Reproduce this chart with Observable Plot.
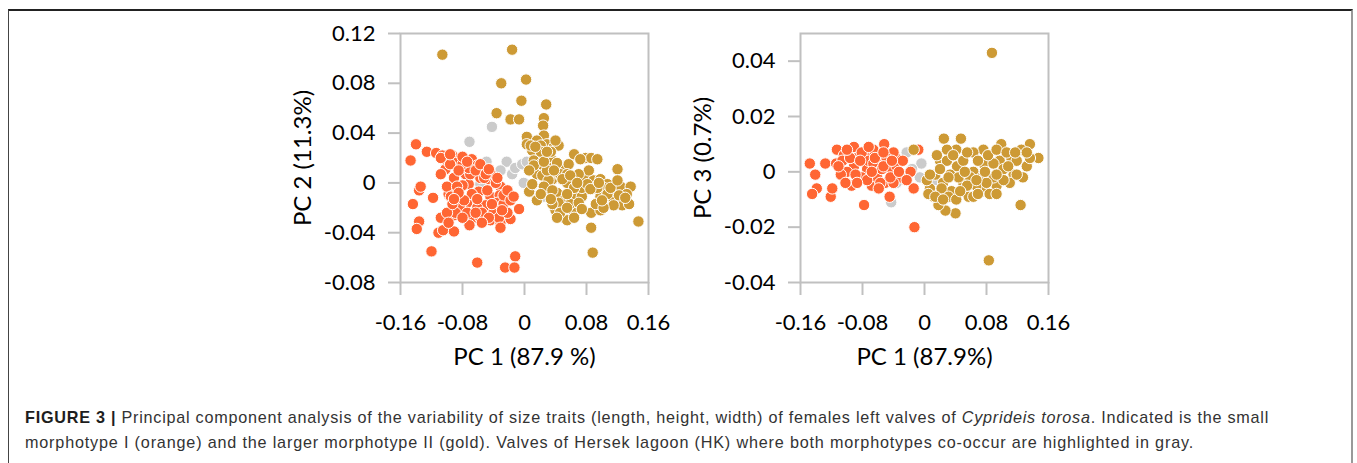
<!DOCTYPE html>
<html>
<head>
<meta charset="utf-8">
<script src="https://cdn.jsdelivr.net/npm/d3@7"></script>
<script src="https://cdn.jsdelivr.net/npm/@observablehq/plot@0.6"></script>
<style>
  html, body { margin: 0; padding: 0; background: #fff; }
  #page { position: relative; width: 1357px; height: 463px; overflow: hidden; }
  #box { position: absolute; left: 8px; top: 9px; width: 1345px; height: 520px;
         border-top: 2px solid #222; border-left: 1px solid #444; border-right: 2px solid #999; box-sizing: border-box; }
  .chart { position: absolute; top: 15px; }
  #left { left: 280px; }
  #right { left: 680px; }
  .cap { position: absolute; left: 25px; white-space: nowrap; font-family: "Liberation Sans", Arial, sans-serif;
         font-size: 16.2px; color: #333; line-height: 1; }
  .cap b { color: #1e1e1e; }
</style>
</head>
<body>
<div id="page">
  <div id="box"></div>
  <div id="left" class="chart"></div>
  <div id="right" class="chart"></div>
  <div id="cap1" class="cap" style="top:409px"><b>FIGURE 3 |</b> Principal component analysis of the variability of size traits (length, height, width) of females left valves of <i>Cyprideis torosa</i>. Indicated is the small</div>
  <div id="cap2" class="cap" style="top:434px">morphotype I (orange) and the larger morphotype II (gold). Valves of Hersek lagoon (HK) where both morphotypes co-occur are highlighted in gray.</div>
</div>
<script>
// ---- tick values ----
const xTicks = [-0.16, -0.08, 0, 0.08, 0.16];
const yTicksPC2 = [-0.08, -0.04, 0, 0.04, 0.08, 0.12];
const yTicksPC3 = [-0.04, -0.02, 0, 0.02, 0.04];

// ---- groups ----
const groups = ["HK", "Morphotype I", "Morphotype II"];
const groupColors = ["#cbcbcb", "#ff6633", "#cd9a35"];

// ---- PC1 vs PC2 ----
const pc12Gray = [[-0.042,0.045],[-0.071,0.033],[-0.049,0.017],[-0.023,0.017],[-0.031,0.010],[-0.016,0.007],
  [-0.012,0.012],[-0.001,0.000],[-0.003,0.015],[0.003,0.017],[-0.040,0.004],[-0.057,-0.001],[0.025,-0.011]];
const pc12Orange = [[-0.140,0.031],[-0.147,0.018],[-0.126,0.025],[-0.114,0.024],[-0.106,0.022],[-0.093,0.022],
  [-0.102,0.011],[-0.089,0.016],[-0.068,0.019],[-0.061,0.014],[-0.091,0.004],[-0.076,0.007],[-0.072,-0.001],
  [-0.057,0.004],[-0.046,0.003],[-0.044,0.008],[-0.031,-0.003],[-0.136,-0.006],[-0.134,-0.003],[-0.144,-0.017],
  [-0.118,-0.012],[-0.098,-0.009],[-0.085,-0.010],[-0.059,-0.007],[-0.044,-0.011],[-0.032,-0.010],[-0.022,-0.013],
  [-0.074,-0.016],[-0.050,-0.018],[-0.035,-0.022],[-0.007,-0.021],[-0.091,-0.026],[-0.108,-0.028],[-0.068,-0.029],
  [-0.057,-0.028],[-0.044,-0.030],[-0.031,-0.032],[-0.018,-0.029],[-0.136,-0.031],[-0.139,-0.037],[-0.111,-0.040],
  [-0.105,-0.038],[-0.091,-0.039],[-0.071,-0.034],[-0.120,-0.055],[-0.061,-0.064],[-0.012,-0.059],[-0.025,-0.068],
  [-0.013,-0.068],[-0.080,-0.002],[-0.083,-0.020],[-0.061,-0.020],[-0.035,-0.016],[-0.052,0.004],[-0.070,0.007],
  [-0.100,-0.003],[-0.108,0.007],[-0.027,-0.017],[-0.072,0.012],[-0.080,0.015],[-0.089,-0.024],[-0.040,-0.024],
  [-0.095,-0.011],[-0.104,0.019],[-0.096,0.015],[-0.085,0.010],[-0.063,0.010],[-0.050,0.007],[-0.037,0.000],
  [-0.027,-0.010],[-0.018,-0.014],[-0.048,-0.006],[-0.068,-0.009],[-0.078,-0.014],[-0.055,-0.024],[-0.074,-0.024],
  [-0.033,-0.028],[-0.022,-0.024],[-0.100,-0.024],[-0.087,-0.003],[-0.093,-0.017],
  [-0.108,0.020],[-0.096,0.023],[-0.080,0.021],[-0.074,0.017],[-0.057,0.015],[-0.046,0.011],[-0.035,0.004],
  [-0.022,-0.006],[-0.014,-0.011],[-0.085,-0.008],[-0.091,-0.013],[-0.061,-0.013],[-0.042,-0.017],[-0.029,-0.022],
  [-0.046,-0.028],[-0.063,-0.024],[-0.080,-0.028],[-0.098,-0.032],[-0.031,-0.036],[-0.055,-0.032]];
const pc12Gold = [[-0.106,0.103],[-0.016,0.107],[0.002,0.083],[-0.030,0.080],[-0.004,0.066],[0.028,0.063],
  [-0.036,0.056],[-0.018,0.051],[-0.007,0.051],[0.025,0.052],[0.024,0.046],[0.003,0.037],[0.003,0.031],[0.025,0.038],
  [0.029,0.031],[0.016,0.034],[0.038,0.029],[0.044,0.030],[0.010,0.026],[0.025,0.022],[0.036,0.018],[0.051,0.013],
  [0.064,0.023],[0.079,0.020],[0.086,0.020],[0.094,0.019],[0.120,0.011],[0.016,0.007],[0.023,0.006],[0.036,0.003],
  [0.044,0.007],[0.061,0.002],[0.077,0.004],[0.089,0.002],[0.098,0.003],[0.107,-0.001],[0.115,-0.005],[0.124,-0.003],
  [0.137,-0.003],[0.006,-0.007],[0.016,-0.014],[0.029,-0.006],[0.042,-0.008],[0.051,-0.014],[0.064,-0.009],
  [0.074,-0.011],[0.098,-0.011],[0.113,-0.011],[0.126,-0.018],[0.135,-0.017],[0.040,-0.022],[0.051,-0.028],
  [0.064,-0.024],[0.086,-0.024],[0.098,-0.022],[0.115,-0.018],[0.147,-0.031],[0.086,-0.036],[0.088,-0.056],
  [0.031,0.002],[0.055,0.000],[0.025,-0.003],[0.044,-0.016],[0.059,-0.017],[0.074,-0.004],[0.083,0.010],
  [0.102,-0.004],[0.036,0.012],[0.012,0.018],[0.021,0.015],[0.057,0.015],[0.046,0.007],[0.070,0.007],
  [0.132,-0.009],[0.036,-0.017],[0.055,-0.030],[0.008,0.030],[0.021,0.030],[0.034,0.025],[0.042,0.016],
  [0.029,0.010],[0.055,0.007],[0.064,-0.004],[0.081,-0.001],[0.094,-0.004],[0.107,-0.009],[0.122,-0.010],
  [0.055,-0.009],[0.036,-0.006],[0.021,-0.009],[0.010,-0.001],[0.046,-0.024],[0.070,-0.016],[0.092,-0.017],
  [0.102,-0.020],[0.034,-0.013],[0.072,0.019],[0.021,0.025],
  [0.012,0.014],[0.025,0.017],[0.038,0.010],[0.049,0.003],[0.059,0.006],[0.068,0.000],[0.085,-0.005],
  [0.096,0.000],[0.111,-0.004],[0.120,0.002],[0.130,-0.012],[0.074,-0.021],[0.055,-0.020],[0.042,-0.028],
  [0.064,-0.028],[0.100,-0.014],[0.029,0.025],[0.040,0.034],[0.014,0.029],[0.006,0.010]];

// ---- PC1 vs PC3 ----
const pc13Gray = [[-0.043,-0.011],[-0.023,0.007],[-0.004,0.003],[-0.006,-0.002],[-0.036,-0.004],[0.016,-0.003],
  [-0.016,0.001],[-0.027,-0.002]];
const pc13Orange = [[-0.148,0.003],[-0.128,0.003],[-0.141,-0.001],[-0.139,-0.006],[-0.145,-0.008],[-0.121,-0.009],
  [-0.119,-0.006],[-0.113,0.008],[-0.104,0.006],[-0.114,0.003],[-0.091,0.009],[-0.076,0.006],[-0.091,0.002],
  [-0.074,0.001],[-0.085,-0.003],[-0.094,-0.005],[-0.068,-0.005],[-0.078,-0.012],[-0.058,0.004],[-0.052,0.010],
  [-0.061,-0.002],[-0.045,0.001],[-0.037,0.005],[-0.040,0.007],[-0.031,-0.002],[-0.018,0.000],[-0.008,0.008],
  [-0.014,-0.006],[-0.045,-0.009],[-0.013,-0.020],[-0.100,0.000],[-0.108,-0.001],[-0.066,0.008],[-0.081,-0.002],
  [-0.051,-0.004],[-0.072,0.004],[-0.087,0.005],[-0.040,-0.004],[-0.106,0.004],[-0.096,0.005],[-0.081,0.007],
  [-0.066,0.003],[-0.055,0.001],[-0.049,0.005],[-0.036,0.002],[-0.028,0.004],[-0.074,-0.003],[-0.057,-0.004],
  [-0.089,-0.001],[-0.102,-0.004],[-0.064,0.005],[-0.044,-0.002],
  [-0.111,0.002],[-0.083,0.004],[-0.068,0.000],[-0.053,0.002],[-0.042,0.004],[-0.033,0.000],[-0.023,-0.003],
  [-0.059,-0.006],[-0.087,-0.004],[-0.100,0.008],[-0.053,0.007],[-0.072,0.009]];
const pc13Gold = [[0.087,0.043],[0.083,-0.032],[0.025,0.012],[0.047,0.012],[0.124,-0.012],[0.040,-0.015],
  [0.027,-0.014],[0.018,-0.012],[0.012,-0.009],[0.035,-0.007],[0.057,-0.009],[0.076,-0.007],[0.093,-0.005],
  [0.115,-0.001],[0.132,0.002],[0.147,0.005],[0.136,0.010],[0.125,0.008],[0.099,0.010],[0.076,0.008],[0.063,0.007],
  [0.041,0.008],[0.029,0.008],[0.020,0.004],[0.042,0.002],[0.063,0.000],[0.074,-0.002],[0.089,-0.002],[0.097,0.004],
  [0.112,0.005],[0.014,-0.001],[0.024,-0.004],[0.050,-0.004],[0.007,-0.006],[0.076,0.003],[0.059,-0.002],
  [0.110,-0.004],[0.127,-0.002],[0.050,0.004],[0.089,0.003],[0.033,-0.001],[0.067,-0.005],[0.102,0.001],
  [0.003,-0.003],[-0.014,0.008],[0.016,0.006],[0.029,0.004],[0.037,0.006],[0.055,0.007],[0.069,0.004],[0.082,0.006],
  [0.093,0.008],[0.106,0.007],[0.119,0.004],[0.136,0.005],[0.044,-0.002],[0.055,-0.005],[0.080,-0.004],
  [0.102,-0.003],[0.119,-0.001],[0.022,-0.006],[0.031,-0.009],[0.041,-0.010],[0.063,-0.009],[0.084,-0.008],
  [0.007,-0.001],[0.005,-0.008],
  [0.020,0.001],[0.031,-0.002],[0.052,0.000],[0.067,-0.003],[0.078,0.000],[0.093,-0.001],[0.108,0.002],
  [0.117,0.007],[0.132,0.007],[0.046,-0.007],[0.069,-0.008],[0.093,-0.008],[0.014,-0.009],[0.024,-0.010]];

function rows(gray, orange, gold) {
  const out = [];
  [gray, orange, gold].forEach((arr, gi) => arr.forEach(([x, y]) => out.push({x, y, g: groups[gi]})));
  return out;
}

const fmt = d => d === 0 ? "0" : String(d);
const axisStyle = {stroke: "#c0c0c0", strokeWidth: 2};

function makeChart(data, yDomain, yTicks, xLabel, yLabel) {
  return Plot.plot({
    width: 400,
    height: 360,
    marginLeft: 120,
    marginRight: 32,
    marginTop: 18,
    marginBottom: 93,
    style: {fontFamily: "Lato, 'Open Sans', sans-serif", fontSize: "22px", color: "#000", background: "transparent", overflow: "visible"},
    x: {domain: [-0.16, 0.16]},
    y: {domain: yDomain},
    color: {domain: groups, range: groupColors},
    marks: [
      Plot.frame({stroke: "#c0c0c0", strokeWidth: 2}),
      // ticks and tick labels
      Plot.axisX({ticks: xTicks, tickFormat: fmt, tickSize: 13, tickPadding: 19, ...axisStyle, label: null}),
      Plot.axisY({ticks: yTicks, tickFormat: fmt, tickSize: 12, tickPadding: 13, ...axisStyle, label: null}),
      // axis titles (slightly larger type)
      Plot.axisX({ticks: [], tickSize: 0, fontSize: 24, label: xLabel, labelAnchor: "center", labelOffset: 82, labelArrow: "none"}),
      Plot.axisY({ticks: [], tickSize: 0, fontSize: 24, label: yLabel, labelAnchor: "center", labelOffset: 107, labelArrow: "none"}),
      Plot.dot(data, {x: "x", y: "y", fill: "g", r: 5.7, stroke: "#fff", strokeWidth: 1, fillOpacity: 1})
    ]
  });
}

document.getElementById("left").append(
  makeChart(rows(pc12Gray, pc12Orange, pc12Gold), [-0.08, 0.12], yTicksPC2, "PC 1 (87.9 %)", "PC 2 (11.3%)"));
document.getElementById("right").append(
  makeChart(rows(pc13Gray, pc13Orange, pc13Gold), [-0.04, 0.05], yTicksPC3, "PC 1 (87.9%)", "PC 3 (0.7%)"));

// fit caption line widths to the reference
function fit(id, target) {
  const el = document.getElementById(id);
  const n = el.textContent.length;
  const w = el.getBoundingClientRect().width;
  el.style.letterSpacing = ((target - w) / n) + "px";
}
fit("cap1", 1244);
fit("cap2", 1169);
</script>
</body>
</html>
